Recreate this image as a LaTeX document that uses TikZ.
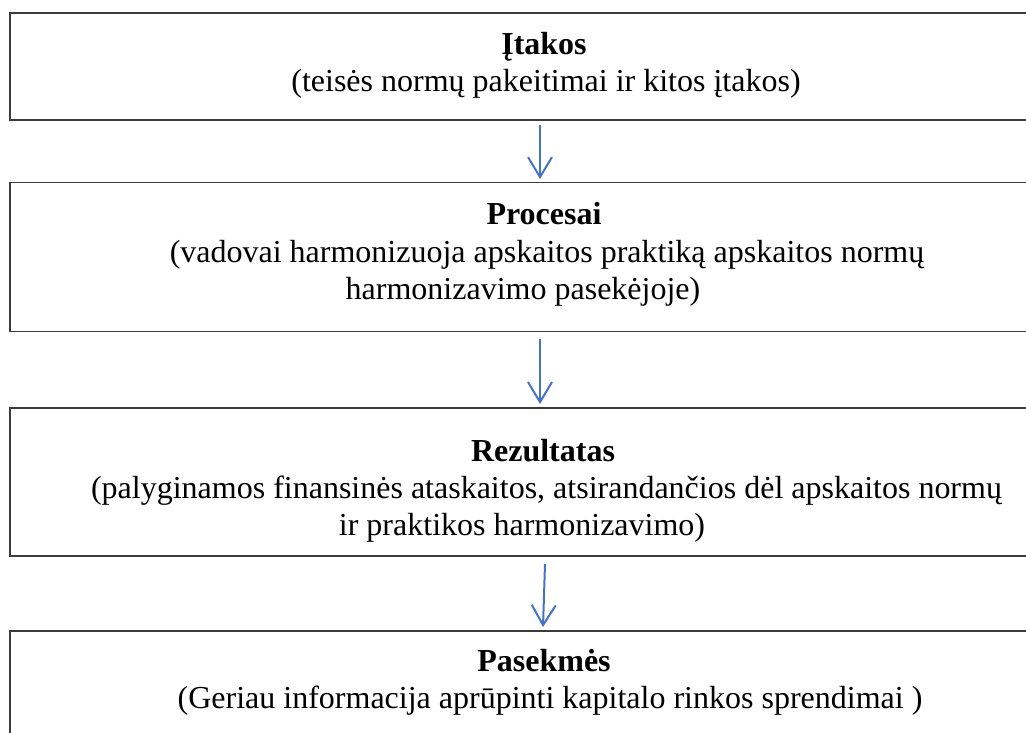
\documentclass[tikz,border=0pt]{standalone}
\usepackage{fontspec}
\setmainfont{Liberation Serif}
\usetikzlibrary{arrows.meta}
\definecolor{arrblue}{RGB}{68,114,196}
\definecolor{boxgray}{RGB}{60,60,60}
\tikzset{
  box/.style={draw=boxgray, line width=1.5pt, rectangle, inner sep=0pt, minimum width=1080pt},
  txt/.style={anchor=base, inner sep=0pt, font=\fontsize{32}{38}\selectfont},
  ttl/.style={txt, font=\fontsize{32}{38}\selectfont\bfseries},
  arr/.style={draw=arrblue, line width=2pt, -{Straight Barb[length=20pt,width=24pt]}}
}
\begin{document}
\begin{tikzpicture}[x=1pt,y=-1pt]
\useasboundingbox (0,0) rectangle (1026,733);
% boxes
\node[box, minimum height=107pt] (b1) at (550,66.5) {};
\node[box, minimum height=149pt] (b2) at (550,257) {};
\node[box, minimum height=148pt] (b3) at (550,482) {};
\node[box, minimum height=160pt] (b4) at (550,711) {};
% texts box 1
\node[ttl] (t1) at (544,55) {Įtakos};
\node[txt] (t1a) at (546,92) {(teisės normų pakeitimai ir kitos įtakos)};
% box 2
\node[ttl] (t2) at (544,224) {Procesai};
\node[txt] (t2a) at (547,262) {(vadovai harmonizuoja apskaitos praktiką apskaitos normų};
\node[txt] (t2b) at (523,299) {harmonizavimo pasekėjoje)};
% box 3
\node[ttl] (t3) at (543,461) {Rezultatas};
\node[txt] (t3a) at (546.5,498) {(palyginamos finansinės ataskaitos, atsirandančios dėl apskaitos normų};
\node[txt] (t3b) at (522,535) {ir praktikos harmonizavimo)};
% box 4
\node[ttl] (t4) at (544,671) {Pasekmės};
\node[txt] (t4a) at (550,708) {(Geriau informacija aprūpinti kapitalo rinkos sprendimai )};
% arrows
\coordinate (a1s) at (540,125);
\coordinate (a1e) at (540,179);
\coordinate (a2s) at (540,339);
\coordinate (a2e) at (540,404);
\coordinate (a3s) at (545,564);
\coordinate (a3e) at (543,627);
\draw[arr] (a1s) -- (a1e);
\draw[arr] (a2s) -- (a2e);
\draw[arr] (a3s) -- (a3e);
\end{tikzpicture}
\end{document}
